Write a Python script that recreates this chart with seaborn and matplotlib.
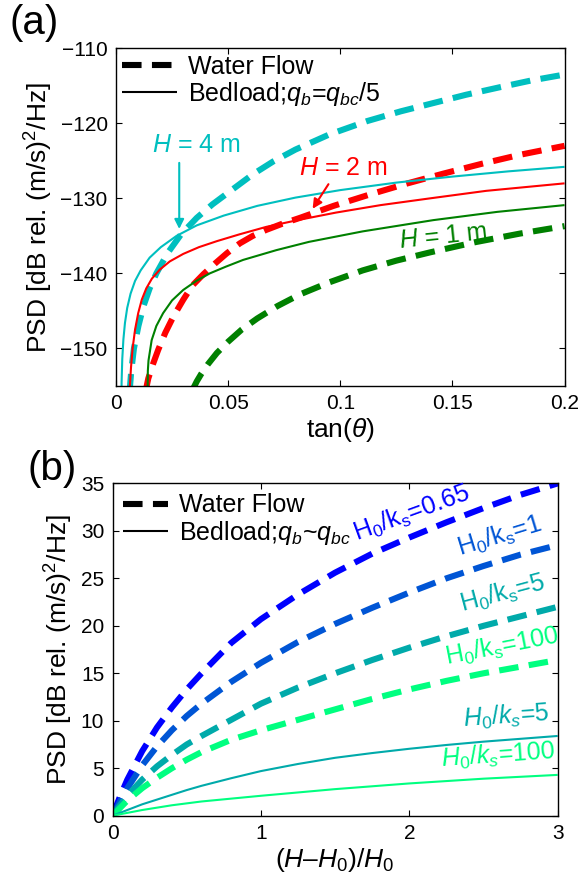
import numpy as np
import pandas as pd
import matplotlib
matplotlib.use("Agg")
import matplotlib.pyplot as plt
import seaborn as sns
from matplotlib.lines import Line2D

# ---------------- Panel (a) data: tan(theta) vs PSD (dB) ----------------
a_h4_water_x = [0.0060, 0.0068, 0.0080, 0.0100, 0.0122, 0.0150, 0.0180, 0.0230, 0.0290, 0.0360,
                0.0430, 0.0520, 0.0610, 0.0700, 0.0800, 0.0950, 0.1120, 0.1270, 0.1415, 0.1560,
                0.1710, 0.1850, 0.2000]
a_h4_water_y = [-156, -153, -150, -147, -144.4, -142.0, -140.0, -137.3, -134.8, -132.6,
                -130.8, -128.8, -126.8, -125.1, -123.5, -121.5, -119.7, -118.4, -117.3, -116.2,
                -115.2, -114.3, -113.5]

a_h4_bed_x = [0.0023, 0.0025, 0.0028, 0.0033, 0.0040, 0.0050, 0.0065, 0.0085, 0.0110, 0.0150,
              0.0200, 0.0270, 0.0360, 0.0480, 0.0630, 0.0800, 0.1000, 0.1250, 0.1500, 0.1750,
              0.2000]
a_h4_bed_y = [-159.4, -154.5, -151.4, -148.8, -146.6, -144.6, -142.7, -141.0, -139.6, -137.9,
              -136.5, -135.0, -133.6, -132.3, -131.0, -129.9, -128.9, -127.9, -127.1, -126.4,
              -125.8]

a_h2_water_x = [0.0130, 0.0144, 0.0166, 0.0188, 0.0220, 0.0255, 0.0300, 0.0341, 0.0390, 0.0441,
                0.0495, 0.0552, 0.0610, 0.0670, 0.0740, 0.0820, 0.0970, 0.1130, 0.1300, 0.1460,
                0.1630, 0.1800, 0.2000]
a_h2_water_y = [-156, -154, -152, -150.2, -147.9, -145.8, -143.5, -141.6, -140.1, -138.7,
                -137.3, -136.0, -135.0, -134.2, -133.4, -132.6, -131.0, -129.5, -128.0, -126.7,
                -125.4, -124.2, -123.0]

a_h2_bed_x = [0.0058, 0.0062, 0.0067, 0.0074, 0.0085, 0.0099, 0.0115, 0.0135, 0.0160, 0.0195,
              0.0240, 0.0300, 0.0370, 0.0450, 0.0550, 0.0670, 0.0810, 0.0980, 0.1180, 0.1400,
              0.1650, 0.2000]
a_h2_bed_y = [-157, -155, -152.5, -150, -147.5, -145.3, -143.5, -142.0, -140.7, -139.5,
              -138.4, -137.4, -136.5, -135.7, -134.8, -133.8, -132.9, -131.9, -130.9, -130.0,
              -129.0, -128.0]

a_h1_water_x = [0.0340, 0.0360, 0.0380, 0.0410, 0.0450, 0.0500, 0.0560, 0.0630, 0.0720, 0.0820,
                0.0950, 0.1100, 0.1250, 0.1400, 0.1600, 0.1800, 0.2000]
a_h1_water_y = [-155.6, -154.4, -153.4, -152.1, -150.6, -149.1, -147.5, -146.0, -144.35, -142.8,
                -141.2, -139.6, -138.3, -137.2, -135.85, -134.7, -133.7]

a_h1_bed_x = [0.0141, 0.0142, 0.0145, 0.0159, 0.0180, 0.0210, 0.0250, 0.0300, 0.0358, 0.0418,
              0.0490, 0.0567, 0.0715, 0.0860, 0.1100, 0.1415, 0.1700, 0.2000]
a_h1_bed_y = [-156, -153, -151.6, -148.9, -147.0, -145.3, -143.6, -142.2, -141.0, -140.0,
              -139.1, -138.2, -136.9, -135.8, -134.4, -132.9, -131.8, -130.9]

# ---------------- Panel (b) data: (H-H0)/H0 vs PSD (dB) ----------------
b_x = [0, 0.05, 0.1, 0.2, 0.3, 0.4, 0.5, 0.6, 0.8, 1.0, 1.25, 1.5, 1.75, 2.0, 2.25, 2.5, 2.75, 3.0]
b_water_065 = [0, 2.0, 3.8, 6.8, 9.3, 11.4, 13.3, 15.0, 18.2, 20.7, 23.3, 25.6, 27.6, 29.3, 30.9, 32.4, 33.8, 35.0]
b_water_1 = [0, 1.5, 2.9, 5.3, 7.3, 9.0, 10.5, 11.8, 14.1, 16.1, 18.3, 20.2, 21.9, 23.5, 25.0, 26.3, 27.5, 28.5]
b_water_5 = [0, 1.1, 2.1, 3.8, 5.2, 6.4, 7.5, 8.4, 10.1, 11.8, 13.5, 15.0, 16.4, 17.7, 18.9, 20.0, 21.0, 22.0]
b_water_100 = [0, 0.8, 1.6, 2.9, 4.0, 5.0, 5.9, 6.7, 8.0, 9.0, 10.1, 11.2, 12.3, 13.3, 14.2, 15.0, 15.7, 16.4]
b_bed_5 = [0, 0.3, 0.6, 1.2, 1.7, 2.2, 2.7, 3.15, 3.95, 4.7, 5.45, 6.1, 6.6, 7.05, 7.45, 7.8, 8.1, 8.4]
b_bed_100 = [0, 0.15, 0.3, 0.6, 0.85, 1.1, 1.3, 1.5, 1.8, 2.1, 2.45, 2.8, 3.1, 3.4, 3.65, 3.9, 4.1, 4.3]

a_xticks = [0, 0.05, 0.1, 0.15, 0.2]
a_xticklabels = ["0", "0.05", "0.1", "0.15", "0.2"]
a_yticks = [-150, -140, -130, -120, -110]
b_xticks = [0, 1, 2, 3]
b_yticks = [0, 5, 10, 15, 20, 25, 30, 35]

# ---------------- style ----------------
sns.set_style("ticks")
plt.rcParams.update({
    'font.family': ['Liberation Sans', 'DejaVu Sans'],
    'mathtext.fontset': 'custom',
    'mathtext.rm': 'Liberation Sans',
    'mathtext.it': 'Liberation Sans:italic',
    'mathtext.bf': 'Liberation Sans:bold',
    'mathtext.sf': 'Liberation Sans',
    'text.color': 'black',
    'axes.labelcolor': 'black',
    'axes.edgecolor': 'black',
    'axes.linewidth': 1.0,
    'xtick.color': 'black', 'ytick.color': 'black',
    'xtick.direction': 'in', 'ytick.direction': 'in',
    'xtick.top': True, 'ytick.right': True,
    'xtick.major.size': 4, 'ytick.major.size': 4,
    'xtick.major.width': 0.8, 'ytick.major.width': 0.8,
    'lines.scale_dashes': True,
    'lines.dashed_pattern': [3.2, 1.7],
    'lines.solid_capstyle': 'butt',
    'lines.dash_capstyle': 'butt',
})

CY = (0.0, 0.75, 0.75)
RD = (1.0, 0.0, 0.0)
GR = (0.0, 0.5, 0.0)
W0 = (0.0, 0.0, 1.0)
W1 = (0.0, 1/3, 5/6)
W2 = (0.0, 2/3, 2/3)
W3 = (0.0, 1.0, 0.5)

TICK = 15
LAB = 19
TXT = 18

fig = plt.figure(figsize=(5.82, 8.81), dpi=100)
axa = fig.add_axes([0.1993, 0.5619, 0.9700 - 0.1993, 0.9452 - 0.5619])
axb = fig.add_axes([0.1933, 0.0741, 0.9582 - 0.1933, 0.4513 - 0.0741])

DL = 4.4
SL = 1.5

def line(ax, x, y, color, dashed):
    sns.lineplot(x=x, y=y, ax=ax, color=color, estimator=None, sort=False,
                 lw=DL if dashed else SL, linestyle='--' if dashed else '-')

# panel (a)
line(axa, a_h1_water_x, a_h1_water_y, GR, True)
line(axa, a_h2_water_x, a_h2_water_y, RD, True)
line(axa, a_h4_water_x, a_h4_water_y, CY, True)
line(axa, a_h1_bed_x, a_h1_bed_y, GR, False)
line(axa, a_h2_bed_x, a_h2_bed_y, RD, False)
line(axa, a_h4_bed_x, a_h4_bed_y, CY, False)

axa.set_xlim(0, 0.2)
axa.set_ylim(-155, -110)
axa.set_xticks(a_xticks)
axa.set_xticklabels(a_xticklabels)
axa.set_yticks(a_yticks)
axa.tick_params(labelsize=TICK, pad=6)
axa.set_xlabel(r"tan($\theta$)", fontsize=LAB, labelpad=2)
axa.set_ylabel(r"PSD [dB rel. (m/s)$^2$/Hz]", fontsize=LAB, labelpad=4)

handles_a = [Line2D([], [], color='black', lw=DL, linestyle='--'),
             Line2D([], [], color='black', lw=SL)]
axa.legend(handles_a, ["Water Flow", r"Bedload;$q_b$=$q_{bc}/5$"], loc='upper left',
           bbox_to_anchor=(0.0, 1.0), frameon=False, fontsize=TXT, handlelength=2.2,
           handletextpad=0.45, labelspacing=0.05, borderaxespad=0.15, borderpad=0.1)

axa.text(0.0159, -123.8, r"$H$ = 4 m", color=CY, fontsize=TXT, ha='left', va='baseline')
axa.annotate("", xy=(0.0282, -134.45), xytext=(0.0282, -124.9),
             arrowprops=dict(arrowstyle='-|>', color=CY, lw=1.5, mutation_scale=14))
axa.text(0.0815, -126.9, r"$H$ = 2 m", color=RD, fontsize=TXT, ha='left', va='baseline')
axa.annotate("", xy=(0.0870, -131.7), xytext=(0.0954, -127.8),
             arrowprops=dict(arrowstyle='-|>', color=RD, lw=1.5, mutation_scale=14))
axa.text(0.1266, -136.6, r"$H$ = 1 m", color=GR, fontsize=TXT, ha='left', va='baseline',
         rotation=6, rotation_mode='anchor')

fig.text(10 / 582, 1 - 4 / 881, "(a)", fontsize=29, ha='left', va='top')

# panel (b)
line(axb, b_x, b_water_065, W0, True)
line(axb, b_x, b_water_1, W1, True)
line(axb, b_x, b_water_5, W2, True)
line(axb, b_x, b_water_100, W3, True)
line(axb, b_x, b_bed_5, W2, False)
line(axb, b_x, b_bed_100, W3, False)

axb.set_xlim(0, 3)
axb.set_ylim(0, 35)
axb.set_xticks(b_xticks)
axb.set_yticks(b_yticks)
axb.tick_params(labelsize=TICK, pad=6)
axb.set_xlabel(r"$(H$–$H_0)/H_0$", fontsize=LAB, labelpad=2)
axb.set_ylabel(r"PSD [dB rel. (m/s)$^2$/Hz]", fontsize=LAB, labelpad=4)

handles_b = [Line2D([], [], color='black', lw=DL, linestyle='--'),
             Line2D([], [], color='black', lw=SL)]
axb.legend(handles_b, ["Water Flow", r"Bedload;$q_b$~$q_{bc}$"], loc='upper left',
           bbox_to_anchor=(0.0, 1.0), frameon=False, fontsize=TXT, handlelength=1.8,
           handletextpad=0.45, labelspacing=0.05, borderaxespad=0.3, borderpad=0.1)

lab_kw = dict(fontsize=TXT, ha='left', va='baseline', rotation_mode='anchor')
axb.text(1.645, 28.9, r"$\mathrm{H_0/k_s}$=0.65", color=W0, rotation=20, **lab_kw)
axb.text(2.342, 27.3, r"$\mathrm{H_0/k_s}$=1", color=W1, rotation=17, **lab_kw)
axb.text(2.356, 21.5, r"$\mathrm{H_0/k_s}$=5", color=W2, rotation=15, **lab_kw)
axb.text(2.252, 15.9, r"$\mathrm{H_0/k_s}$=100", color=W3, rotation=11, **lab_kw)
axb.text(2.364, 9.4, r"$H_0/k_s$=5", color=W2, rotation=4, **lab_kw)
axb.text(2.218, 5.16, r"$H_0/k_s$=100", color=W3, rotation=4, **lab_kw)

fig.text(28 / 582, 1 - 450 / 881, "(b)", fontsize=29, ha='left', va='top')

fig.savefig("out.png", dpi=100)
